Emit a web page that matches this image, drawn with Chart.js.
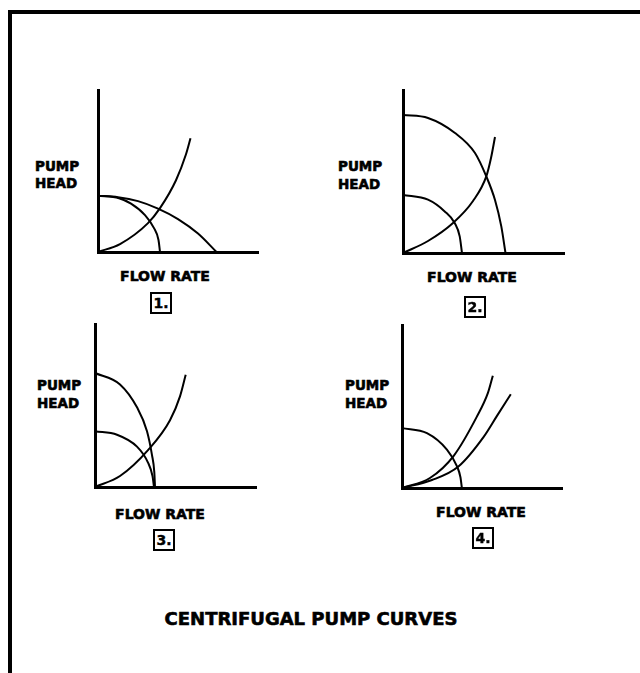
<!DOCTYPE html>
<html>
<head>
<meta charset="utf-8">
<script src="https://cdn.jsdelivr.net/npm/chart.js@4"></script>
<style>
  body { margin: 0; width: 640px; height: 673px; background: #fff; position: relative; overflow: hidden; }
  #frame { position: absolute; left: 8px; top: 10px; width: 640px; height: 700px; border-left: 4px solid #000; border-top: 4px solid #000; }
  canvas { position: absolute; }
  .lbl { position: absolute; font-family: "DejaVu Sans", sans-serif; font-weight: bold; color: #000; line-height: 1; white-space: nowrap; -webkit-text-stroke: 0.6px #000; }
  .ctr { transform: translate(-50%, -50%); }
  .mid { transform: translateY(-50%); }
  .box { position: absolute; width: 18px; height: 18px; border: 2px solid #000; transform: translate(-50%, -50%);
         font-family: "DejaVu Sans", sans-serif; font-weight: bold; font-size: 14px; line-height: 18px; text-align: center; -webkit-text-stroke: 0.4px #000; }
</style>
</head>
<body>
<div id="frame"></div>

<canvas id="c1"></canvas>
<canvas id="c2"></canvas>
<canvas id="c3"></canvas>
<canvas id="c4"></canvas>

<div class="lbl mid" style="left:35px; top:167px; font-size:13.5px;">PUMP</div>
<div class="lbl mid" style="left:35px; top:184px; font-size:13.5px;">HEAD</div>
<div class="lbl ctr" style="left:165px; top:276px; font-size:14px;">FLOW RATE</div>
<div class="box" style="left:161px; top:303px;">1.</div>

<div class="lbl mid" style="left:338px; top:167px; font-size:13.5px;">PUMP</div>
<div class="lbl mid" style="left:338px; top:185px; font-size:13.5px;">HEAD</div>
<div class="lbl ctr" style="left:472px; top:277px; font-size:14px;">FLOW RATE</div>
<div class="box" style="left:475px; top:307px;">2.</div>

<div class="lbl mid" style="left:37px; top:386px; font-size:13.5px;">PUMP</div>
<div class="lbl mid" style="left:37px; top:404px; font-size:13.5px;">HEAD</div>
<div class="lbl ctr" style="left:160px; top:514px; font-size:14px;">FLOW RATE</div>
<div class="box" style="left:164px; top:540px;">3.</div>

<div class="lbl mid" style="left:345px; top:386px; font-size:13.5px;">PUMP</div>
<div class="lbl mid" style="left:345px; top:404px; font-size:13.5px;">HEAD</div>
<div class="lbl ctr" style="left:481px; top:512px; font-size:14px;">FLOW RATE</div>
<div class="box" style="left:483px; top:538px;">4.</div>

<div class="lbl ctr" style="left:311px; top:619px; font-size:18px;">CENTRIFUGAL PUMP CURVES</div>

<script>
// curves, flow (Q) vs head (H) in arbitrary units

// 1. two pumps with the same shutoff head
const p1SmallQ = [0, 21, 33, 47, 56, 60.5, 62];
const p1SmallH = [56.5, 54, 48.5, 37, 24, 12, 0];
const p1LargeQ = [0, 20, 40, 60, 80, 100, 118.5];
const p1LargeH = [56.5, 55, 51, 43.5, 33, 18.5, 0];
const p1SystemQ = [0, 22, 50, 62, 78, 88, 92.5];
const p1SystemH = [0, 8, 29, 44, 72, 98, 114];

// 2. pumps with the same shape, different size
const p2LargeQ = [0, 25, 52, 72, 83.3, 92, 98.3, 102.5];
const p2LargeH = [138, 135, 120, 100, 76.6, 53, 26.6, 0];
const p2SmallQ = [0, 25, 41.7, 51.7, 56.7, 59];
const p2SmallH = [58, 53.3, 41.6, 30, 16.6, 0];
const p2SystemQ = [0, 25, 50, 70, 83.3, 88, 92];
const p2SystemH = [0, 12, 30, 52, 76.6, 95, 116];

// 3. pumps with the same runout flow
const p3LargeQ = [0, 25, 42, 52, 57, 59.3, 60];
const p3LargeH = [114.5, 103, 80, 56, 32, 15, 0];
const p3SmallQ = [0, 22, 42, 53, 57.5, 59];
const p3SmallH = [56, 52.5, 40.5, 24.5, 11, 0];
const p3SystemQ = [0, 25, 53, 75, 85, 90.7];
const p3SystemH = [0, 11, 37, 67, 91, 112.7];

// 4. one pump, two system curves
const p4PumpQ = [0, 25, 45, 55, 58.5, 60];
const p4PumpH = [60, 55, 38.5, 22, 11, 0];
const p4SystemAQ = [0, 28, 52, 75, 86, 91];
const p4SystemAH = [0, 10, 32.5, 71.5, 95, 112.5];
const p4SystemBQ = [0, 30, 56.5, 82, 95, 109];
const p4SystemBH = [0, 8, 21.5, 51.5, 72, 94];

// axis lengths of each small plot
const axisMaxQ = [160, 161, 161, 160.3];
const axisMaxH = [162.5, 163, 163.7, 163.3];
// where each plot sits on the page (y axis x position, y axis top)
const plotLeft = [98, 403, 95, 401.7];
const plotTop = [90, 90, 324, 325];

const PAD = 10;

function pts(qs, hs) {
    return qs.map((q, i) => ({ x: q, y: hs[i] }));
}

function curve(qs, hs) {
    return {
        data: pts(qs, hs),
        showLine: true,
        borderColor: '#000',
        borderWidth: 2,
        pointRadius: 0,
        fill: false,
        cubicInterpolationMode: 'monotone',
        clip: false,
    };
}

function makePlot(idx, datasets) {
    const el = document.getElementById('c' + (idx + 1));
    el.width = axisMaxQ[idx] + PAD * 2;
    el.height = axisMaxH[idx] + PAD * 2;
    el.style.left = (plotLeft[idx] - PAD) + 'px';
    el.style.top = (plotTop[idx] - PAD) + 'px';

    return new Chart(el, {
        type: 'scatter',
        data: { datasets: datasets },
        options: {
            responsive: false,
            animation: false,
            devicePixelRatio: 1,
            layout: { padding: PAD },
            plugins: { legend: { display: false }, tooltip: { enabled: false } },
            scales: {
                x: {
                    type: 'linear', min: 0, max: axisMaxQ[idx],
                    ticks: { display: false },
                    grid: { display: false },
                    border: { display: true, color: '#000', width: 3 },
                    afterFit: (s) => { s.height = 0; },
                },
                y: {
                    type: 'linear', min: 0, max: axisMaxH[idx],
                    ticks: { display: false },
                    grid: { display: false },
                    border: { display: true, color: '#000', width: 3 },
                    afterFit: (s) => { s.width = 0; },
                },
            },
        },
    });
}

makePlot(0, [curve(p1SmallQ, p1SmallH), curve(p1LargeQ, p1LargeH), curve(p1SystemQ, p1SystemH)]);
makePlot(1, [curve(p2LargeQ, p2LargeH), curve(p2SmallQ, p2SmallH), curve(p2SystemQ, p2SystemH)]);
makePlot(2, [curve(p3LargeQ, p3LargeH), curve(p3SmallQ, p3SmallH), curve(p3SystemQ, p3SystemH)]);
makePlot(3, [curve(p4PumpQ, p4PumpH), curve(p4SystemAQ, p4SystemAH), curve(p4SystemBQ, p4SystemBH)]);
</script>
</body>
</html>
